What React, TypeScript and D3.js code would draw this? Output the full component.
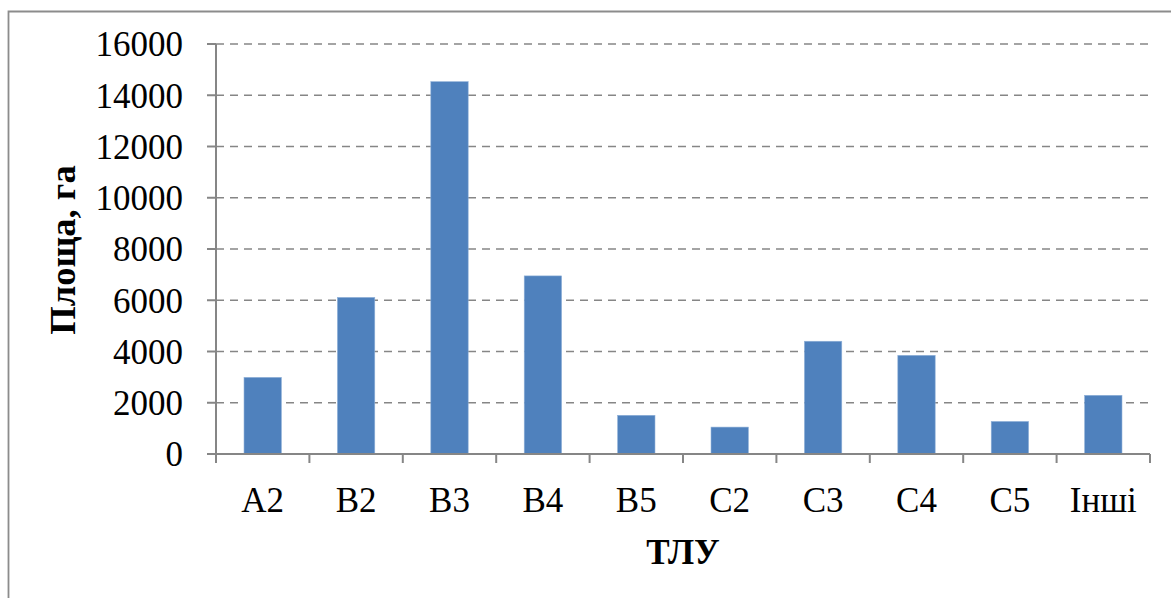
import React from "react";
import * as d3 from "d3";

const categories = ["A2", "B2", "B3", "B4", "B5", "C2", "C3", "C4", "C5", "Інші"];
const areaValues = [2990, 6110, 14530, 6950, 1510, 1050, 4400, 3850, 1270, 2290];
const yTicks = [0, 2000, 4000, 6000, 8000, 10000, 12000, 14000, 16000];
const yTitle = "Площа, га";
const xTitle = "ТЛУ";

const W = 1171;
const H = 598;
const left = 216;
const right = 1150;
const top = 44;
const bottom = 454;
const font = "'Liberation Serif', 'Times New Roman', serif";
const gray = "#868686";

export default function App() {
  const x = d3
    .scaleBand<string>()
    .domain(categories)
    .range([left, right])
    .paddingInner(0.6)
    .paddingOuter(0.3);
  const y = d3.scaleLinear().domain([0, 16000]).range([bottom, top]);
  const step = (right - left) / categories.length;
  const boundaries = d3.range(categories.length + 1).map((i) => left + i * step);

  return (
    <svg
      width={W}
      height={H}
      style={{ position: "absolute", left: 0, top: 0, background: "#fff" }}
    >
      <rect x={0} y={0} width={W} height={H} fill="#fff" />
      {/* outer frame */}
      <path d={`M8.5,${H} V11.5 H${W}`} fill="none" stroke="#8c8c8c" strokeWidth={1.8} />
      {/* gridlines */}
      {yTicks.slice(1).map((t) => (
        <line
          key={"g" + t}
          x1={left}
          x2={right}
          y1={y(t)}
          y2={y(t)}
          stroke={gray}
          strokeWidth={1.7}
          strokeDasharray="8,6"
        />
      ))}
      {/* bars */}
      {categories.map((c, i) => (
        <rect
          key={c}
          x={x(c)}
          y={y(areaValues[i])}
          width={x.bandwidth()}
          height={bottom - y(areaValues[i])}
          fill="#4F81BD"
          stroke="#8fb0d8"
          strokeWidth={0.6}
        />
      ))}
      {/* y axis */}
      <line x1={left} x2={left} y1={top} y2={bottom} stroke={gray} strokeWidth={2} />
      {yTicks.map((t) => (
        <g key={"y" + t}>
          <line x1={left - 9} x2={left} y1={y(t)} y2={y(t)} stroke={gray} strokeWidth={2} />
          <text
            x={183}
            y={y(t)}
            dy="0.35em"
            textAnchor="end"
            fontFamily={font}
            fontSize={35}
            fill="#000"
          >
            {t}
          </text>
        </g>
      ))}
      {/* x axis */}
      <line x1={left} x2={right} y1={bottom} y2={bottom} stroke={gray} strokeWidth={2} />
      {boundaries.map((b, i) => (
        <line key={"xt" + i} x1={b} x2={b} y1={bottom} y2={bottom + 9} stroke={gray} strokeWidth={2} />
      ))}
      {categories.map((c) => (
        <text
          key={"xl" + c}
          x={(x(c) as number) + x.bandwidth() / 2}
          y={512}
          textAnchor="middle"
          fontFamily={font}
          fontSize={35}
          fill="#000"
        >
          {c}
        </text>
      ))}
      {/* titles */}
      <text
        x={(left + right) / 2}
        y={564}
        textAnchor="middle"
        fontFamily={font}
        fontSize={35}
        fontWeight="bold"
        fill="#000"
      >
        {xTitle}
      </text>
      <text
        transform={`translate(75, ${(top + bottom) / 2 + 1}) rotate(-90)`}
        textAnchor="middle"
        fontFamily={font}
        fontSize={36.5}
        fontWeight="bold"
        fill="#000"
      >
        {yTitle}
      </text>
    </svg>
  );
}
